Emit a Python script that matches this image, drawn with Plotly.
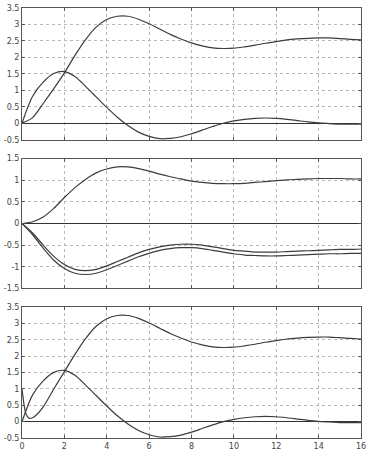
import plotly.graph_objects as go

# ---------------- data ----------------
t = [0, 0.5, 1, 1.5, 2, 2.5, 3, 3.5, 4, 4.5, 5, 5.5, 6, 6.5, 7, 7.5, 8,
     8.5, 9, 9.5, 10, 10.5, 11, 11.5, 12, 12.5, 13, 13.5, 14, 14.5, 15, 15.5, 16]

# panel 1
p1_a = [0, 0.17, 0.6, 1.05, 1.53, 2.06, 2.54, 2.92, 3.15, 3.25, 3.25, 3.16, 3.02,
        2.86, 2.70, 2.56, 2.44, 2.35, 2.29, 2.27, 2.28, 2.32, 2.37, 2.43, 2.48,
        2.53, 2.56, 2.58, 2.59, 2.59, 2.57, 2.55, 2.53]
p1_b = [0, 0.82, 1.25, 1.51, 1.57, 1.42, 1.12, 0.80, 0.48, 0.18, -0.07, -0.27,
        -0.40, -0.47, -0.46, -0.41, -0.32, -0.21, -0.10, 0.00, 0.07, 0.12, 0.15,
        0.16, 0.15, 0.12, 0.08, 0.04, 0.01, -0.01, -0.03, -0.03, -0.03]

# panel 2
p2_c = [0, 0.04, 0.15, 0.35, 0.60, 0.83, 1.02, 1.17, 1.26, 1.31, 1.31, 1.27, 1.21,
        1.14, 1.08, 1.03, 0.98, 0.95, 0.93, 0.92, 0.92, 0.93, 0.95, 0.97, 0.99,
        1.01, 1.02, 1.03, 1.04, 1.04, 1.04, 1.03, 1.03]
p2_d = [0, -0.22, -0.50, -0.76, -0.95, -1.06, -1.09, -1.06, -0.98, -0.88, -0.78,
        -0.68, -0.60, -0.54, -0.50, -0.48, -0.48, -0.50, -0.54, -0.58, -0.62,
        -0.64, -0.66, -0.66, -0.66, -0.65, -0.64, -0.63, -0.62, -0.61, -0.60,
        -0.60, -0.59]
p2_e = [0, -0.26, -0.57, -0.85, -1.04, -1.15, -1.18, -1.15, -1.07, -0.97, -0.87,
        -0.77, -0.69, -0.62, -0.58, -0.56, -0.56, -0.58, -0.62, -0.66, -0.70,
        -0.73, -0.74, -0.75, -0.75, -0.74, -0.73, -0.72, -0.71, -0.70, -0.70,
        -0.69, -0.69]

# panel 3
t3_a = [0, 0.05, 0.1, 0.2, 0.35, 0.5, 0.75, 1, 1.5, 2, 2.5, 3, 3.5, 4, 4.5, 5,
        5.5, 6, 6.5, 7, 7.5, 8, 8.5, 9, 9.5, 10, 10.5, 11, 11.5, 12, 12.5, 13,
        13.5, 14, 14.5, 15, 15.5, 16]
p3_a = [1.0, 0.75, 0.5, 0.22, 0.1, 0.12, 0.25, 0.45, 1.0, 1.53, 2.06, 2.54, 2.92,
        3.15, 3.25, 3.25, 3.16, 3.02, 2.86, 2.70, 2.56, 2.44, 2.35, 2.29, 2.27,
        2.28, 2.32, 2.37, 2.43, 2.48, 2.53, 2.56, 2.58, 2.59, 2.59, 2.57, 2.55, 2.53]
p3_b = p1_b

x_ticks = [0, 2, 4, 6, 8, 10, 12, 14, 16]
x_ticktext = ["0", "2", "4", "6", "8", "10", "12", "14", "16"]
y13_ticks = [-0.5, 0, 0.5, 1, 1.5, 2, 2.5, 3, 3.5]
y13_text = ["-0.5", "0", "0.5", "1", "1.5", "2", "2.5", "3", "3.5"]
y2_ticks = [-1.5, -1, -0.5, 0, 0.5, 1, 1.5]
y2_text = ["-1.5", "-1", "-0.5", "0", "0.5", "1", "1.5"]

# ---------------- figure ----------------
LINE = "#3c3c3c"
fig = go.Figure()

def add(x, y, ax):
    fig.add_trace(go.Scatter(x=x, y=y, mode="lines", xaxis="x" + ax, yaxis="y" + ax,
                             line=dict(color=LINE, width=1.2, shape="spline", smoothing=0.8),
                             showlegend=False, hoverinfo="skip"))

add(t, p1_a, "")
add(t, p1_b, "")
add(t, p2_c, "2")
add(t, p2_d, "2")
add(t, p2_e, "2")
add(t3_a, p3_a, "3")
add(t, p3_b, "3")

domains = {"": [0.6937, 1.0], "2": [0.348, 0.6497], "3": [0.0, 0.3039]}
yinfo = {"": ([-0.5, 3.5], y13_ticks, y13_text),
         "2": ([-1.5, 1.5], y2_ticks, y2_text),
         "3": ([-0.5, 3.5], y13_ticks, y13_text)}

axis_common = dict(showline=True, linecolor="#555555", linewidth=1, mirror="ticks",
                   ticks="inside", ticklen=3, tickcolor="#555555",
                   showgrid=True, gridcolor="#b8b8b8", griddash="dot", gridwidth=1,
                   ticklabeloverflow="allow",
                   tickfont=dict(family="DejaVu Sans", size=8, color="#444444"))

layout = {}
for ax in ["", "2", "3"]:
    rng, yt, ytt = yinfo[ax]
    layout["xaxis" + ax] = dict(axis_common, range=[0, 16], tickvals=x_ticks,
                                ticktext=x_ticktext, showticklabels=(ax == "3"),
                                anchor="y" + ax, domain=[0, 1], zeroline=False)
    layout["yaxis" + ax] = dict(axis_common, range=rng, tickvals=yt, ticktext=ytt,
                                anchor="x" + ax, domain=domains[ax],
                                zeroline=True, zerolinecolor="#333333", zerolinewidth=1.2)

fig.update_layout(width=370, height=455, margin=dict(l=19, r=4, t=7, b=17),
                  paper_bgcolor="white", plot_bgcolor="white", **layout)

fig.write_html("out.html")
